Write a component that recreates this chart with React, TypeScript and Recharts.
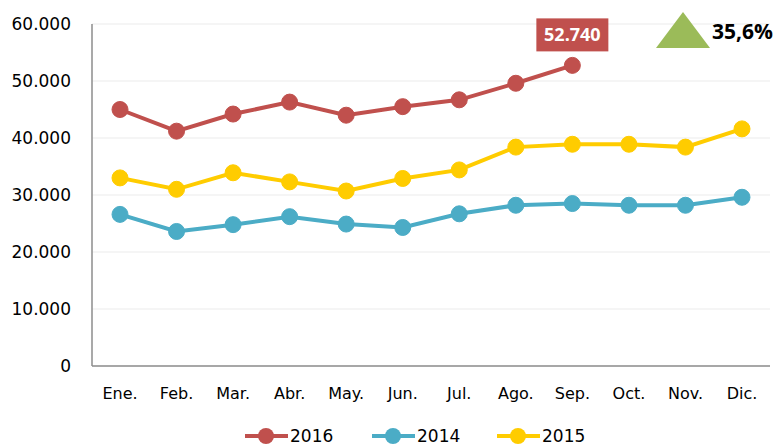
import { LineChart, Line, XAxis, YAxis, CartesianGrid, LabelList } from 'recharts';

const months = ['Ene.', 'Feb.', 'Mar.', 'Abr.', 'May.', 'Jun.', 'Jul.', 'Ago.', 'Sep.', 'Oct.', 'Nov.', 'Dic.'];
const sales2016 = [45000, 41200, 44200, 46300, 44000, 45500, 46700, 49600, 52740];
const sales2014 = [26600, 23600, 24800, 26200, 24900, 24300, 26700, 28200, 28500, 28200, 28200, 29600];
const sales2015 = [33000, 31000, 33900, 32300, 30700, 32900, 34400, 38400, 38900, 38900, 38400, 41600];
const yTicks = [0, 10000, 20000, 30000, 40000, 50000, 60000];
const growthLabel = '35,6%';

const series = [
  { key: 'y2016', name: '2016', color: '#C0504D' },
  { key: 'y2014', name: '2014', color: '#4BACC6' },
  { key: 'y2015', name: '2015', color: '#FFCC00' },
];

const data = months.map((m, i) => ({
  month: m,
  y2016: i < sales2016.length ? sales2016[i] : null,
  y2014: sales2014[i],
  y2015: sales2015[i],
}));

const fmt = (v: number) => v.toLocaleString('de-DE');
const font = 'DejaVu Sans, sans-serif';
const boldFont = '"Open Sans", sans-serif';

function LastLabel(props: any) {
  const { x, y, index, value } = props;
  if (index !== sales2016.length - 1) return null;
  return (
    <g>
      <rect x={x - 36} y={y - 47} width={72} height={33} fill="#C0504D" />
      <text x={x} y={y - 24} textAnchor="middle" fill="#fff" fontSize={18} fontWeight="bold" fontFamily={boldFont}>
        {fmt(value)}
      </text>
    </g>
  );
}

export default function App() {
  return (
    <div style={{ position: 'absolute', left: 0, top: 0, width: 780, height: 445, background: '#fff' }}>
      <LineChart width={780} height={445} data={data} margin={{ top: 24, right: 10, bottom: 49, left: 0 }}>
        <CartesianGrid vertical={false} stroke="#EBEBEB" />
        <XAxis
          dataKey="month"
          padding={{ left: 28, right: 28 }}
          axisLine={{ stroke: '#8C8C8C', strokeWidth: 1.5 }}
          tickLine={false}
          tickMargin={16}
          height={30}
          interval={0}
          tick={{ fontSize: 16, fill: '#000', fontFamily: font }}
        />
        <YAxis
          width={92}
          domain={[0, 60000]}
          ticks={yTicks}
          tickFormatter={fmt}
          axisLine={{ stroke: '#8C8C8C', strokeWidth: 1.5 }}
          tickLine={false}
          tickMargin={15}
          tick={{ fontSize: 17, fill: '#000', fontFamily: font }}
        />
        {series.map((s) => (
          <Line
            key={s.key}
            dataKey={s.key}
            name={s.name}
            stroke={s.color}
            strokeWidth={4}
            dot={{ r: 8, fill: s.color, stroke: s.color, strokeWidth: 1 }}
            activeDot={false}
            isAnimationActive={false}
          >
            {s.key === 'y2016' && <LabelList dataKey="y2016" content={<LastLabel />} />}
          </Line>
        ))}
      </LineChart>
      <svg width={780} height={445} style={{ position: 'absolute', left: 0, top: 0, pointerEvents: 'none' }}>
        <polygon points="656,48 683,12 710,48" fill="#9BBB59" />
        <text x={712} y={39} fontSize={21} fontWeight="bold" fontFamily={boldFont} fill="#000">
          {growthLabel}
        </text>
        {series.map((s, i) => {
          const x0 = [245, 372, 497][i];
          return (
            <g key={s.key}>
              <line x1={x0} y1={436} x2={x0 + 43} y2={436} stroke={s.color} strokeWidth={4} />
              <circle cx={x0 + 21} cy={436} r={8} fill={s.color} />
              <text x={x0 + 45} y={442} fontSize={17} fontFamily={font} fill="#000">
                {s.name}
              </text>
            </g>
          );
        })}
      </svg>
    </div>
  );
}
